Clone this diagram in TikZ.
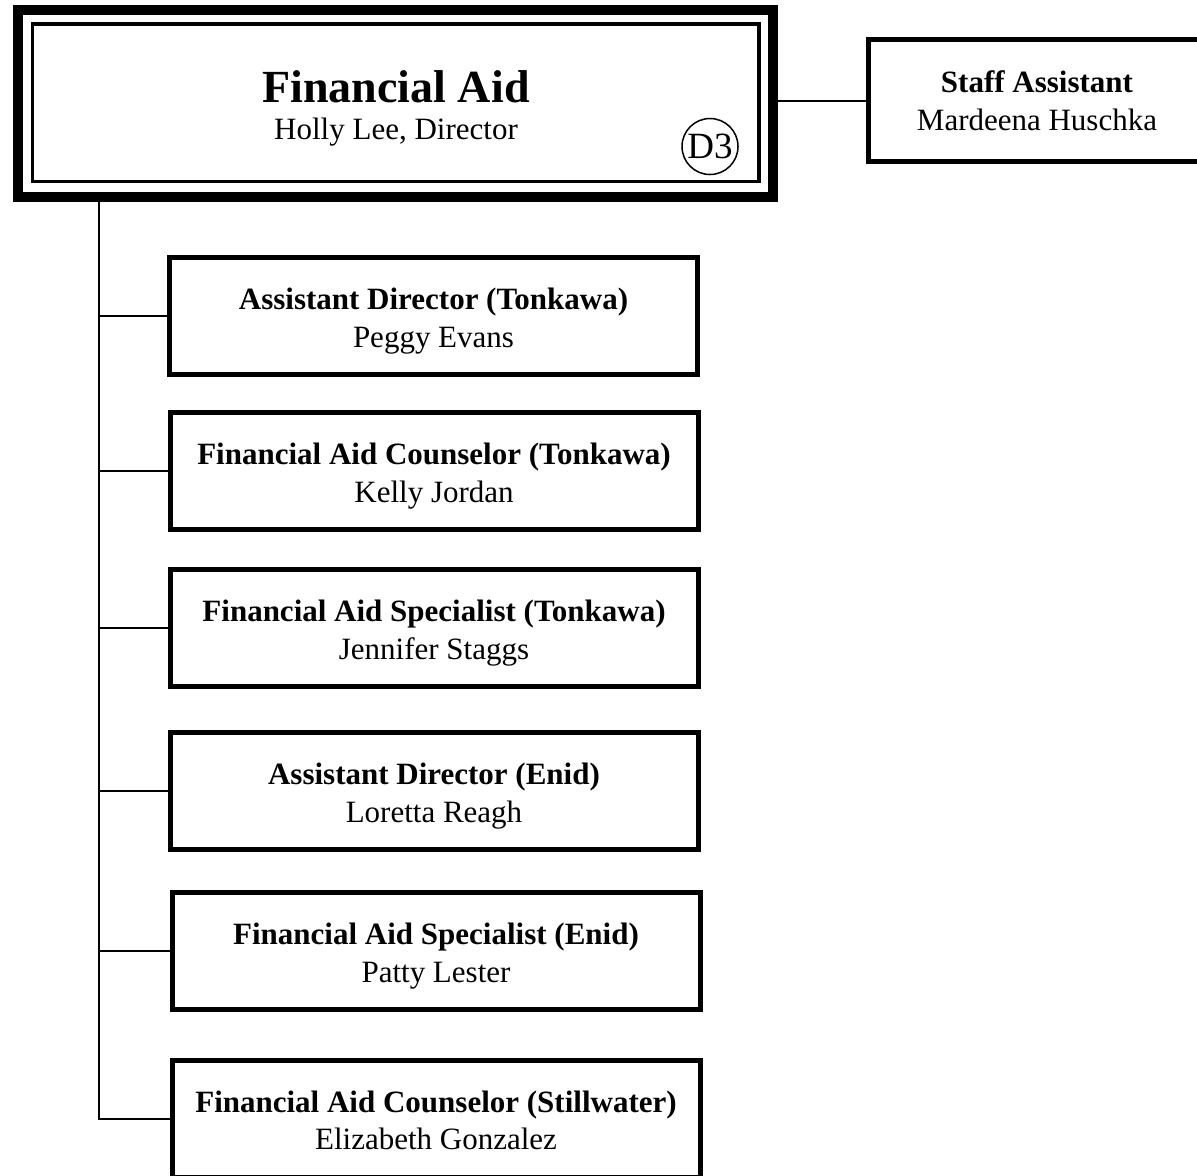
\documentclass[tikz,border=0pt]{standalone}
\usepackage{fontspec}
\setmainfont{Liberation Serif}

\begin{document}
\begin{tikzpicture}[x=0.5pt, y=-0.5pt,
   link/.style={line width=1pt},
   unit/.style={draw, line width=2.5pt, minimum width=264pt, minimum height=58.5pt,
      inner sep=0pt, align=center, font=\fontsize{15.5}{18.75}\selectfont},
   post/.style={unit, text height=34.5pt, text depth=3.4pt}]%
   \useasboundingbox (0,0) rectangle (1197,1175);
   % head office
   \node[draw, line width=5pt, minimum width=377.5pt, minimum height=93.5pt, inner sep=0pt] (frame) at (395.5,103) {};
   \node[draw, line width=1.75pt, minimum width=363.25pt, minimum height=78.75pt, inner sep=0pt] (head) at (395.75,102.75) {};
   \node[anchor=base, font=\fontsize{23}{23}\selectfont\bfseries] (headtitle) at (396,102) {Financial Aid};
   \node[anchor=base, font=\fontsize{15.5}{18.75}\selectfont] (headname) at (396,139) {Holly Lee, Director};
   \node[draw, circle, line width=0.75pt, minimum size=28pt, inner sep=0pt, font=\fontsize{18.5}{18.5}\selectfont] (code) at (710,146.5) {D3};
   % staff
   \node[unit, minimum width=168.5pt, minimum height=61pt] (staff) at (1037,100.5) {\textbf{Staff Assistant}\\Mardeena Huschka};
   \draw[link] (frame.east |- staff.west) -- (staff.west);
   % units
   \node[post] (tonkawaad) at (433.5,316) {\textbf{Assistant Director (Tonkawa)}\\Peggy Evans};
   \node[post] (tonkawafc) at (434,471) {\textbf{Financial Aid Counselor (Tonkawa)}\\Kelly Jordan};
   \node[post] (tonkawafs) at (434,628) {\textbf{Financial Aid Specialist (Tonkawa)}\\Jennifer Staggs};
   \node[post] (enidad) at (434,791) {\textbf{Assistant Director (Enid)}\\Loretta Reagh};
   \node[post] (enidfs) at (436,951) {\textbf{Financial Aid Specialist (Enid)}\\Patty Lester};
   \node[post] (stillfc) at (436,1118.5) {\textbf{Financial Aid Counselor (Stillwater)}\\Elizabeth Gonzalez};
   % trunk
   \coordinate (trunk) at (frame.south -| 98.5,0);
   \draw[link] (trunk) |- (stillfc.west);
   \draw[link] (trunk |- tonkawaad.west) -- (tonkawaad.west);
   \draw[link] (trunk |- tonkawafc.west) -- (tonkawafc.west);
   \draw[link] (trunk |- tonkawafs.west) -- (tonkawafs.west);
   \draw[link] (trunk |- enidad.west) -- (enidad.west);
   \draw[link] (trunk |- enidfs.west) -- (enidfs.west);
\end{tikzpicture}
\end{document}
